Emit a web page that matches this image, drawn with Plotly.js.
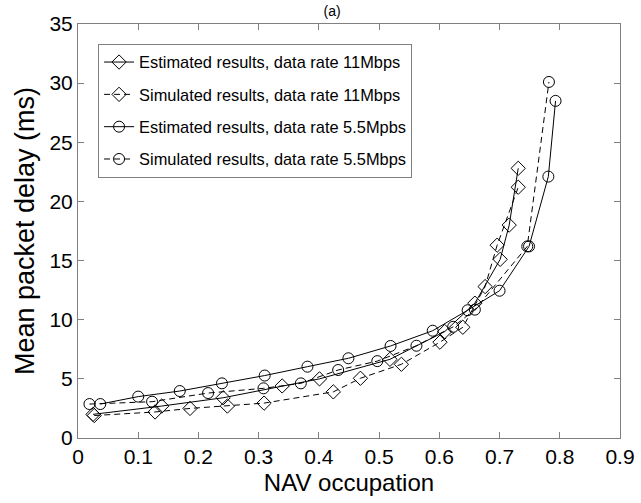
<!DOCTYPE html>
<html>
<head>
<meta charset="utf-8">
<script src="https://cdn.plot.ly/plotly-3.0.1.min.js"></script>
<style>html,body{margin:0;padding:0;background:#fff;}#chart{width:641px;height:503px;}</style>
</head>
<body>
<div id="chart"></div>
<script>
// Estimated results, data rate 11Mbps
const xEst11 = [0.025, 0.139, 0.241, 0.339, 0.401, 0.518, 0.609, 0.659, 0.701, 0.716, 0.731];
const yEst11 = [2.0, 2.7, 3.4, 4.4, 5.0, 6.65, 9.0, 11.4, 15.1, 18.0, 22.8];
// Simulated results, data rate 11Mbps
const xSim11 = [0.027, 0.128, 0.186, 0.248, 0.309, 0.424, 0.469, 0.537, 0.601, 0.639, 0.676, 0.696, 0.731];
const ySim11 = [1.9, 2.2, 2.5, 2.7, 2.95, 3.9, 5.05, 6.23, 8.1, 9.36, 12.8, 16.3, 21.2];
// Estimated results, data rate 5.5Mbps
const xEst55 = [0.037, 0.1, 0.169, 0.239, 0.31, 0.381, 0.449, 0.519, 0.589, 0.647, 0.7, 0.749, 0.781, 0.793];
const yEst55 = [2.87, 3.5, 3.97, 4.62, 5.28, 6.03, 6.74, 7.78, 9.07, 10.8, 12.45, 16.2, 22.1, 28.5];
// Simulated results, data rate 5.5Mbps
const xSim55 = [0.019, 0.123, 0.216, 0.308, 0.37, 0.432, 0.497, 0.562, 0.623, 0.659, 0.746, 0.782];
const ySim55 = [2.87, 3.07, 3.8, 4.2, 4.62, 5.75, 6.5, 7.8, 9.4, 10.85, 16.2, 30.1];

const seriesNames = [
  "Estimated results, data rate 11Mbps",
  "Simulated results, data rate 11Mbps",
  "Estimated results, data rate 5.5Mpbs",
  "Simulated results, data rate 5.5Mbps"
];
const xTickVals = [0, 0.1, 0.2, 0.3, 0.4, 0.5, 0.6, 0.7, 0.8, 0.9];
const xTickText = ["0", "0.1", "0.2", "0.3", "0.4", "0.5", "0.6", "0.7", "0.8", "0.9"];
const yTickVals = [0, 5, 10, 15, 20, 25, 30, 35];

const FONT = "Liberation Sans, Arial, sans-serif";
function tr(x, y, name, sym, dash, g) {
  return {
    x: x, y: y, name: name, type: "scatter", mode: "lines+markers",
    legendgroup: g,
    line: {color: "#000", width: 1, dash: dash},
    marker: {symbol: sym, size: 11, color: "#000", line: {color: "#000", width: 1}}
  };
}
const data = [
  tr(xEst11, yEst11, seriesNames[0], "diamond-open", "solid", "g1"),
  tr(xSim11, ySim11, seriesNames[1], "diamond-open", "6px,4px", "g2"),
  tr(xEst55, yEst55, seriesNames[2], "circle-open", "solid", "g3"),
  tr(xSim55, ySim55, seriesNames[3], "circle-open", "6px,4px", "g4")
];
const axCommon = {
  showgrid: false, zeroline: false, showline: true, linecolor: "#808080", linewidth: 1,
  mirror: "ticks", ticks: "inside", ticklen: 6, tickcolor: "#808080", tickwidth: 1,
  tickfont: {family: FONT, size: 21, color: "#000"}
};
const layout = {
  width: 641, height: 503,
  margin: {l: 78, r: 21, t: 24, b: 65},
  paper_bgcolor: "#fff", plot_bgcolor: "#fff",
  font: {family: FONT, color: "#000"},
  title: {text: "(a)", font: {family: FONT, size: 14, color: "#000"}, xref: "container", x: 0.518, xanchor: "center", yref: "container", y: 0.988, yanchor: "top"},
  showlegend: true,
  legend: {
    x: 0.037, y: 0.952, xanchor: "left", yanchor: "top",
    bgcolor: "#fff", bordercolor: "#808080", borderwidth: 1,
    font: {family: FONT, size: 16.4, color: "#000"},
    tracegroupgap: 8, traceorder: "grouped"
  },
  xaxis: Object.assign({}, axCommon, {
    range: [0, 0.9], tickvals: xTickVals, ticktext: xTickText,
    title: {text: "NAV occupation", font: {family: FONT, size: 24, color: "#000"}, standoff: 6}
  }),
  yaxis: Object.assign({}, axCommon, {
    range: [0, 35], tickvals: yTickVals,
    title: {text: "Mean packet delay (ms)", font: {family: FONT, size: 27, color: "#000"}, standoff: 6}
  })
};
Plotly.newPlot("chart", data, layout, {displayModeBar: false, staticPlot: true});
</script>
</body>
</html>
